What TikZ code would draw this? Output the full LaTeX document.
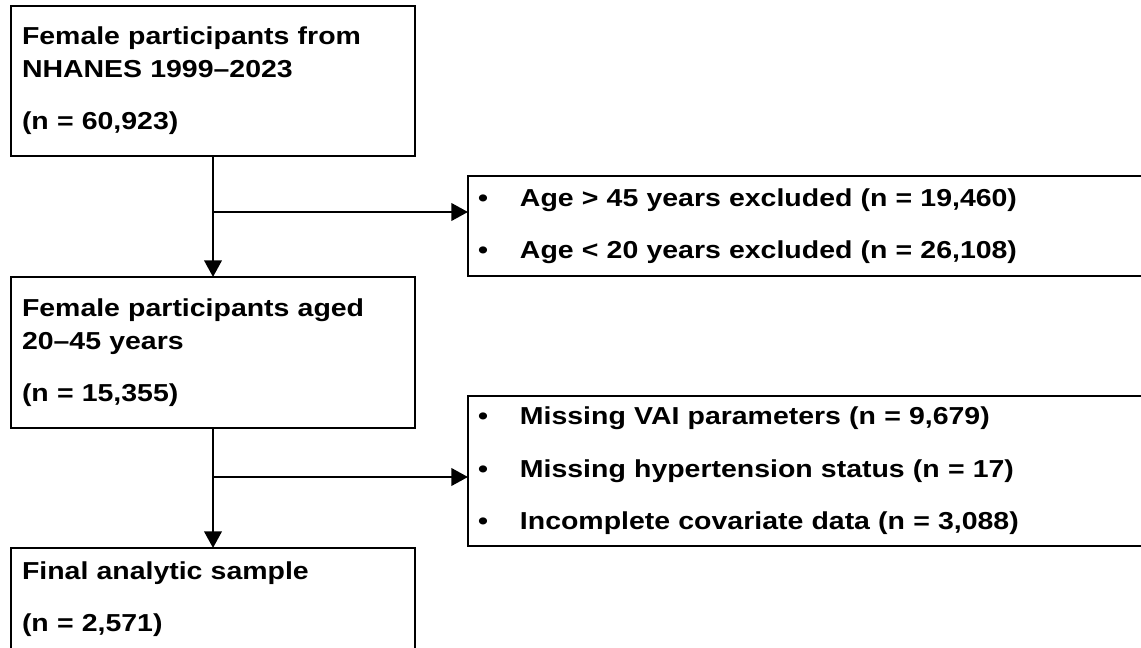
\documentclass[tikz,border=0pt]{standalone}
\usepackage{fontspec}
\setmainfont{Liberation Sans}[FakeStretch=1.16]
\usetikzlibrary{arrows.meta, positioning, calc}
\newcommand{\exclitem}[1]{\makebox[31.5pt][l]{\textbullet}#1}

\begin{document}
\begin{tikzpicture}[
    >={Triangle[length=12.5pt, width=13pt]},
    box/.style={rectangle, draw, line width=2.2pt, outer sep=0pt, inner xsep=8.25pt, inner ysep=3pt, text width=286.5pt, align=left, minimum height=112.5pt, font=\fontsize{18.4pt}{24.75pt}\selectfont\bfseries},
    exclbox/.style={box, inner xsep=7.5pt, text width=496.5pt},
    arrow/.style={->, line width=2.2pt}
]
\path[use as bounding box, fill=white] (0,0) rectangle (855.75pt,-486pt);
\clip (0,0) rectangle (855.75pt,-486pt);

% ========== MAIN STAGES ==========
\node[box, anchor=north west] (b1) at (8.25pt,-4.5pt) {
    Female participants from\\
    NHANES 1999--2023\\[14.25pt]
    (n = 60,923)
};

\node[box, below=90.75pt of b1, minimum height=113.25pt] (b2) {
    Female participants aged\\
    20--45 years\\[14.25pt]
    (n = 15,355)
};

\node[box, below=90pt of b2, minimum height=76.5pt] (b3) {
    Final analytic sample\\[14.25pt]
    (n = 2,571)
};

% ========== EXCLUSIONS ==========
\node[exclbox, below right=15pt and 39.75pt of b1.south east, minimum height=75pt] (ex1) {
    \exclitem{Age > 45 years excluded (n = 19,460)}\\[14.6pt]
    \exclitem{Age < 20 years excluded (n = 26,108)}
};

\node[exclbox, below=90pt of ex1] (ex2) {
    \exclitem{Missing VAI parameters (n = 9,679)}\\[14.6pt]
    \exclitem{Missing hypertension status (n = 17)}\\[14.6pt]
    \exclitem{Incomplete covariate data (n = 3,088)}
};

% ========== ARROWS ==========
\draw[arrow] (b1.south) -- (b2.north);
\draw[arrow] (b2.south) -- (b3.north);

\coordinate (br1) at ($(b1.south)+(0,-42pt)$);
\coordinate (br2) at ($(b2.south)+(0,-36.75pt)$);
\draw[arrow] (br1) -- (br1 -| ex1.west);
\draw[arrow] (br2) -- (br2 -| ex2.west);

\end{tikzpicture}
\end{document}
